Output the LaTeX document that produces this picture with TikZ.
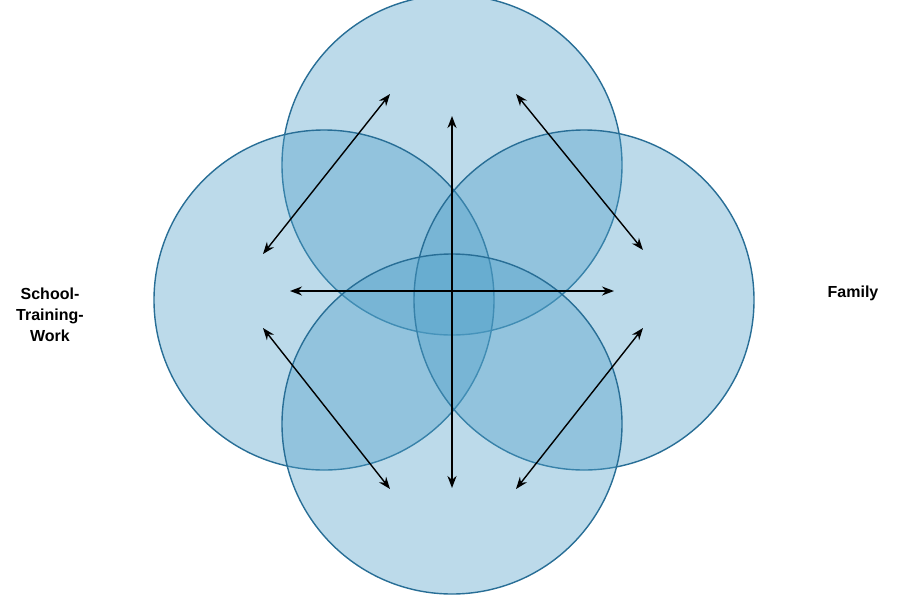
\documentclass[tikz,border=0pt]{standalone}
\usepackage{fontspec}
\setmainfont{Liberation Sans}
\usetikzlibrary{arrows.meta}
\definecolor{ring}{RGB}{40,110,150}
\definecolor{fillc}{RGB}{80,160,200}
\tikzset{
  ball/.style={draw=ring,line width=1.4pt,fill=fillc,fill opacity=0.38},
  arr/.style={line width=1.4pt,{Stealth[length=12pt,width=9pt]}-{Stealth[length=12pt,width=9pt]}},
  lab/.style={font=\bfseries\fontsize{16}{21}\selectfont,align=center}
}
\begin{document}
\begin{tikzpicture}[x=1pt,y=-1pt]
\useasboundingbox[fill=white] (0,0) rectangle (900,600);
\draw[ball] (452,165) circle (170);
\draw[ball] (324,300) circle (170);
\draw[ball] (584,300) circle (170);
\draw[ball] (452,424) circle (170);
\coordinate (vt) at (452,116); \coordinate (vb) at (452,488);
\coordinate (hl) at (290,291); \coordinate (hr) at (614,291);
\coordinate (a1) at (263,254); \coordinate (a2) at (390,94);
\coordinate (b1) at (516,94); \coordinate (b2) at (643,250);
\coordinate (c1) at (263,328); \coordinate (c2) at (390,489);
\coordinate (d1) at (516,489); \coordinate (d2) at (643,328);
\draw[arr,line width=2pt] (vt) -- (vb);
\draw[arr] (hl) -- (hr);
\draw[arr] (a1) -- (a2);
\draw[arr] (b1) -- (b2);
\draw[arr] (c1) -- (c2);
\draw[arr] (d1) -- (d2);
\node[lab] (stw) at (50,315) {School-\\Training-\\Work};
\node[lab] (fam) at (853,293) {Family};
\end{tikzpicture}
\end{document}
